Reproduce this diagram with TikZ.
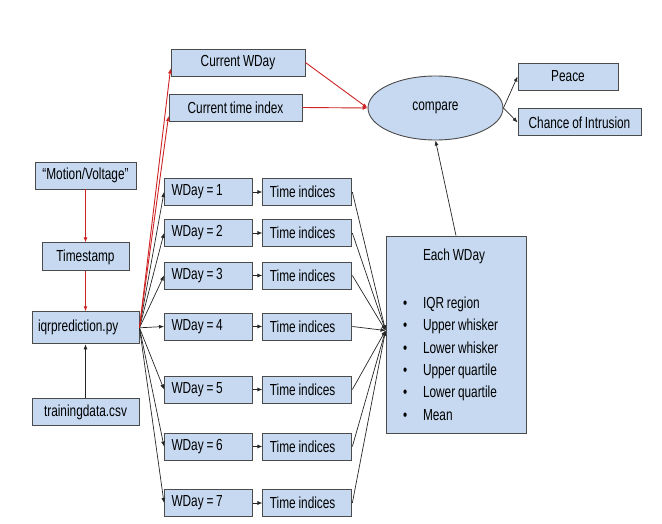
\documentclass[tikz,border=0pt]{standalone}
\usepackage{fontspec}
\setmainfont{Liberation Sans}[FakeStretch=0.74, WordSpace=0.85]
\usepackage{xcolor}
\usetikzlibrary{positioning,arrows.meta,shapes.geometric}

\definecolor{boxblue}{RGB}{198,217,241}
\definecolor{boxline}{RGB}{75,75,75}
\definecolor{flowred}{RGB}{205,35,35}

\begin{document}
\begin{tikzpicture}[
		x=1pt, y=-1pt,
		node distance=9pt and 9pt,
		box/.style={
			draw=boxline,
			fill=boxblue,
			line width=0.9pt,
			align=center,
			inner sep=0pt,
			minimum height=27pt,
			font=\fontsize{16}{19}\selectfont
		},
		leftbox/.style={
			box,
			align=flush left,
			inner xsep=7pt,
			text width=75pt
		},
		decision/.style={
			box,
			ellipse,
			minimum width=135pt,
			minimum height=64pt
		},
		arrow/.style={-{Latex[length=5pt,width=4pt]}, draw=black!85, line width=0.7pt},
		redarrow/.style={-{Latex[length=5pt,width=4pt]}, draw=flowred, line width=0.9pt}
		]
		
		\useasboundingbox (0,0) rectangle (662,524);
		
		% Sensor inputs
		\node[box, minimum width=101pt] (motion) at (85.5,175.5) {``Motion/Voltage''};
		
		\node[box, minimum width=87pt, minimum height=28pt, below=53pt of motion] (timestamp) {Timestamp};
		
		\node[box, align=flush left, inner xsep=6pt, text width=95pt, minimum height=32pt,
			below=40pt of timestamp] (iqr) {iqrprediction.py};
		
		\node[box, minimum width=107pt, below=54pt of iqr] (training) {trainingdata.csv};
		
		% Current values
		\node[box, minimum width=134pt] (cwday) at (238,62.5) {Current WDay};
		
		\node[box, minimum width=133pt] (ctime) at (235.5,107.5) {Current time index};
		
		% Comparison
		\node[decision] (compare) at (435.5,108) {compare};
		
		\node[box, minimum width=100pt] (peace) at (568,76.5) {Peace};
		
		\node[box, minimum width=123pt, below right=18pt and 0pt of peace.south west] (chance) {Chance of Intrusion};
		
		% Statistics per weekday
		\node[box, align=flush left, inner xsep=17pt, text width=106pt, minimum height=197pt] (each) at (456,334.5) {
			\makebox[20pt][l]{}Each WDay\\[29pt]
			\makebox[20pt][l]{\textbullet}IQR region\\[3.4pt]
			\makebox[20pt][l]{\textbullet}Upper whisker\\[3.4pt]
			\makebox[20pt][l]{\textbullet}Lower whisker\\[3.4pt]
			\makebox[20pt][l]{\textbullet}Upper quartile\\[3.4pt]
			\makebox[20pt][l]{\textbullet}Lower quartile\\[3.4pt]
			\makebox[20pt][l]{\textbullet}Mean
		};
		
		% Weekdays and their time indices
		\foreach \d/\y in {1/192,2/233,3/275.5,4/326.5,5/389.5,6/446.5,7/503}{
			\node[leftbox, inner xsep=7pt, text width=74pt] (wday\d) at (208.5,\y) {WDay = \d};
			\node[leftbox, right=9.5pt of wday\d] (times\d) {Time indices};
			\draw[arrow] (iqr.east) -- (wday\d.west);
			\draw[arrow] (wday\d) -- (times\d);
			\draw[arrow] (times\d.east) -- ([yshift=4pt]each.west);
		}
		
		% Arrows
		\draw[redarrow] (motion) -- (timestamp);
		\draw[redarrow] (timestamp) -- (iqr);
		\draw[arrow] (training) -- (iqr);
		\draw[redarrow] (iqr.east) -- ([yshift=-6pt]cwday.west);
		\draw[redarrow] (iqr.east) -- ([yshift=-8.5pt]ctime.west);
		\draw[redarrow] (cwday.east) -- (compare.west);
		\draw[redarrow] (ctime.east) -- (compare.west);
		\draw[arrow] (compare.east) -- (peace.west);
		\draw[arrow] (compare.east) -- (chance.west);
		\draw[arrow] (each.north) -- (compare.south);
		
	\end{tikzpicture}
\end{document}
